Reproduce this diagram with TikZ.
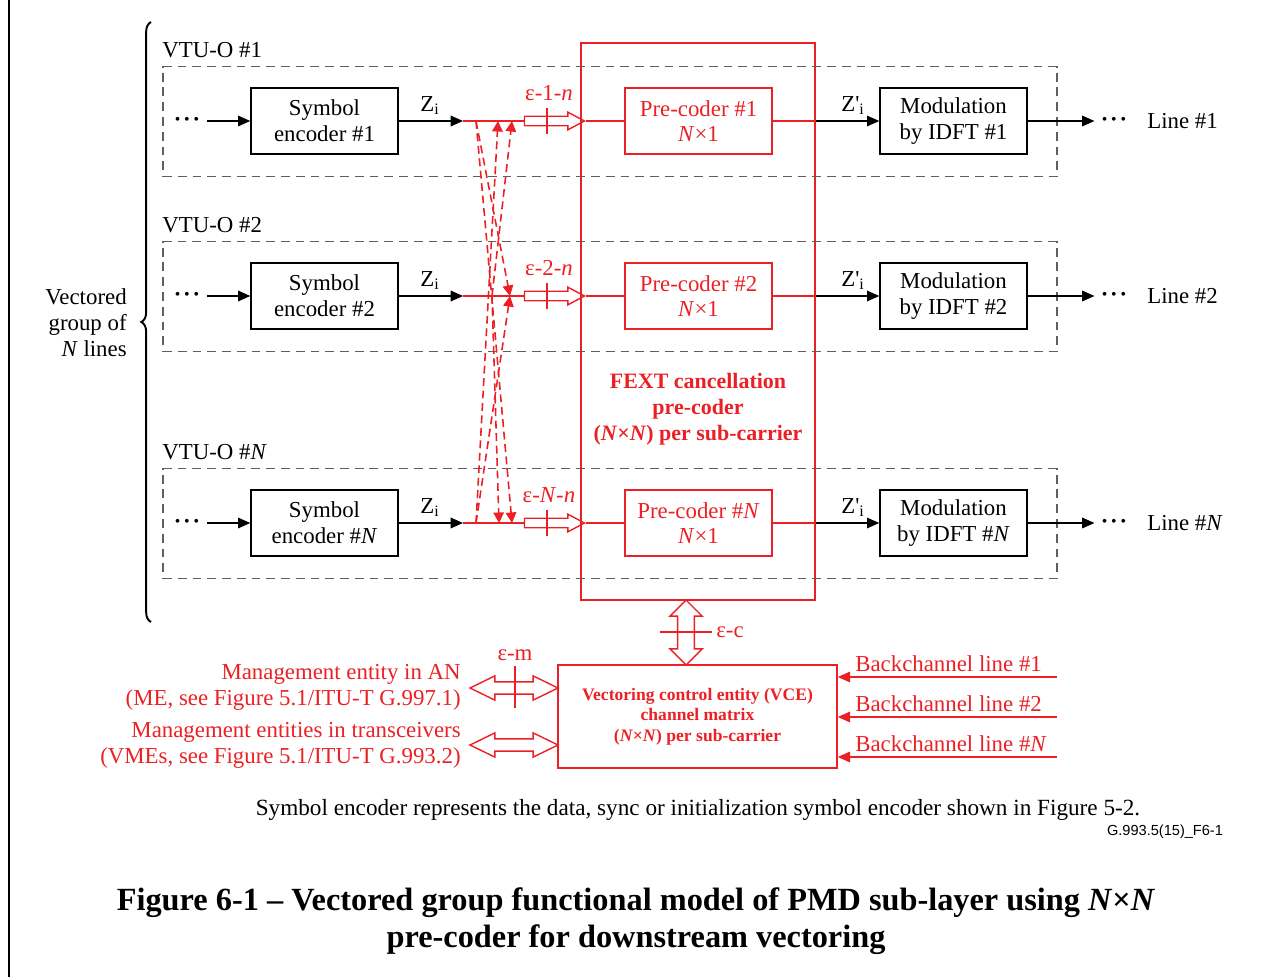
\documentclass[tikz,border=0pt]{standalone}
\usepackage{fontspec}
\setmainfont{Liberation Serif}
\newfontfamily\labelsans{Liberation Sans}
\usetikzlibrary{arrows.meta,shapes.arrows,decorations.pathreplacing,calc}
\definecolor{fextred}{RGB}{236,32,36}
\definecolor{grpgray}{RGB}{95,95,95}
\newcommand{\threedots}{\textbullet\hspace{2.2pt}\textbullet\hspace{2.2pt}\textbullet}

\begin{document}
\begin{tikzpicture}[x=0.02cm,y=-0.02cm,
  every node/.style={font=\fontsize{13}{14.7}\selectfont},
  blk/.style={draw=black, line width=0.8pt, minimum width=2.94cm, minimum height=1.32cm, align=center, inner sep=0pt},
  redblk/.style={blk, draw=fextred, text=fextred},
  grp/.style={draw=grpgray, line width=0.9pt, dash pattern=on 5pt off 3.4pt, minimum width=17.88cm, minimum height=2.2cm, inner sep=0pt},
  sig/.style={line width=0.9pt, -{Triangle[length=7pt,width=6pt]}},
  redsig/.style={line width=0.9pt, draw=fextred},
  fb/.style={draw=fextred, line width=0.9pt, dash pattern=on 4.5pt off 2.6pt, -{Triangle[length=6pt,width=6pt]}},
  tick/.style={draw=fextred, line width=0.8pt},
  narrow/.style={single arrow, draw=fextred, line width=0.8pt, inner xsep=0pt, inner ysep=2.3pt,
     single arrow head extend=2.3pt, single arrow tip angle=56, single arrow head indent=0pt, minimum height=1.2cm},
  dotsnode/.style={inner sep=0pt, font=\fontsize{9}{9}\selectfont},
  redtxt/.style={text=fextred, inner sep=0pt},
]
\useasboundingbox (0,0) rectangle (1285,977);

% page rule on the left
\draw[line width=1.6pt] (9,0) -- (9,977);

% FEXT cancellation pre-coder frame
\node[draw=fextred, line width=0.9pt, minimum width=4.68cm, minimum height=11.14cm, inner sep=0pt] (frame) at (698,321.5) {};

% one row per line of the vectored group
\foreach \r/\y/\n in {1/121/1, 2/296/2, N/523/\textit{N}}{
  \node[grp] (g\r) at (610,\y+0.5) {};
  \node[anchor=west, inner sep=0pt] (vtu\r) at (162,\y-71) {VTU-O \#\n};
  \node[dotsnode] (dl\r) at (187,\y) {\threedots};
  \node[blk] (se\r) at (324.5,\y) {Symbol\\encoder \#\n};
  \coordinate (z\r) at (463,\y);
  \node[anchor=base, inner sep=0pt] (zl\r) at (430,\y-10) {Z\textsubscript{i}};
  \node[narrow] (e\r) at (550,\y) {};
  \draw[tick] (547,\y-13) -- (547,\y+13);
  \node[redtxt, anchor=base] (el\r) at (549,\y-21) {ε-\n-\textit{n}};
  \node[redblk] (pc\r) at (698.5,\y) {Pre-coder \#\n\\\textit{N}×1};
  \node[blk] (md\r) at (953.5,\y) {Modulation\\by IDFT \#\n};
  \node[anchor=base, inner sep=0pt] (zp\r) at (853,\y-10) {Z\textquotesingle\textsubscript{i}};
  \node[dotsnode] (dr\r) at (1114,\y) {\threedots};
  \node[anchor=west, inner sep=0pt] (ln\r) at (1147,\y) {Line \#\n};
  \draw[sig, shorten <=4.5pt] (dl\r.east) -- (se\r.west);
  \draw[sig] (se\r.east) -- (z\r);
  \draw[redsig] (z\r) -- (e\r.west);
  \draw[redsig] (e\r.east) -- (pc\r.west);
  \draw[redsig] (pc\r.east) -- (pc\r.east -| frame.east);
  \draw[sig] (pc\r.east -| frame.east) -- (md\r.west);
  \draw[sig, shorten >=4pt] (md\r.east) -- (dr\r.west);
}

% cross feeds between the lines
\coordinate (tap1) at (476,121);
\coordinate (tap2) at (492,296);
\coordinate (tapN) at (476,523);
\coordinate (a1a) at (498,121);
\coordinate (a1b) at (512,121);
\coordinate (a2) at (510,296);
\coordinate (aNa) at (499,523);
\coordinate (aNb) at (512,523);
\draw[fb] (tapN) -- (a1a);
\draw[fb] (tap2) -- (a1b);
\draw[fb] (tap1) -- (a2);
\draw[fb] (tapN) -- (a2);
\draw[fb] (tap1) -- (aNb);
\draw[fb] (tap2) -- (aNa);

% group brace
\draw[line width=1.1pt, decorate, decoration={brace, amplitude=5.5pt}] (151,622) -- (151,22);
\node[anchor=east, align=right, inner sep=0pt] (grplbl) at (127,323) {Vectored\\group of\\\textit{N} lines};

% pre-coder caption
\node[text=fextred, align=center, inner sep=0pt, font=\fontsize{12.5}{14.7}\selectfont\bfseries] (fext) at (698,409)
  {FEXT cancellation\\pre-coder\\(\textit{N}×\textit{N}) per sub-carrier};

% vectoring control entity
\node[draw=fextred, line width=0.9pt, minimum width=5.58cm, minimum height=2.06cm, inner sep=0pt,
  text=fextred, align=center, font=\fontsize{10}{11.8}\selectfont\bfseries] (vce) at (697.5,716.5)
  {Vectoring control entity (VCE)\\channel matrix\\(\textit{N}×\textit{N}) per sub-carrier};

% ε-c interface
\node[double arrow, draw=fextred, line width=0.8pt, rotate=90, inner xsep=0pt, inner ysep=4.4pt,
  double arrow head extend=4.4pt, double arrow tip angle=90, double arrow head indent=0pt,
  minimum height=1.3cm] (ec) at (686,632.5) {};
\draw[tick] (660,632) -- (712,632);
\node[redtxt, anchor=west] (ecl) at (716,632) {ε-c};

% ε-m interfaces
\tikzset{marrow/.style={double arrow, draw=fextred, line width=0.8pt, inner xsep=0pt, inner ysep=3.1pt,
  double arrow head extend=3.4pt, double arrow tip angle=52, double arrow head indent=0pt, minimum height=1.76cm}}
\node[marrow] (em1) at (514,688) {};
\node[marrow] (em2) at (514,745) {};
\draw[tick] (515,666) -- (515,708);
\node[redtxt, anchor=base] (eml) at (515,660) {ε-m};

\node[redtxt, anchor=east, align=right] (me1) at (461,674) {Management entity in AN};
\node[redtxt, anchor=east, align=right] (me2) at (461,700) {(ME, see Figure 5.1/ITU-T G.997.1)};
\node[redtxt, anchor=east, align=right] (vm1) at (461,732) {Management entities in transceivers};
\node[redtxt, anchor=east, align=right] (vm2) at (461,758) {(VMEs, see Figure 5.1/ITU-T G.993.2)};

% backchannels into the VCE
\foreach \k/\y/\n in {1/677/1, 2/717/2, N/757/\textit{N}}{
  \coordinate (bc\k) at (1057,\y);
  \draw[draw=fextred, line width=0.9pt, -{Triangle[length=7pt,width=6pt]}] (bc\k) -- (bc\k -| vce.east);
  \node[redtxt, anchor=base west] (bcl\k) at (855,\y-6) {Backchannel line \#\n};
}

% notes and figure title
\node[inner sep=0pt, font=\fontsize{13.2}{15}\selectfont] (note) at (698,810)
  {Symbol encoder represents the data, sync or initialization symbol encoder shown in Figure 5-2.};
\node[inner sep=0pt, font=\labelsans\fontsize{8.3}{10}\selectfont] (fid) at (1165,832) {G.993.5(15)\_F6-1};
\node[inner sep=0pt, align=center, font=\fontsize{18.4}{21}\selectfont\bfseries] (title) at (636,921)
  {Figure 6-1 – Vectored group functional model of PMD sub-layer using \textit{N}×\textit{N}\\pre-coder for downstream vectoring};
\end{tikzpicture}
\end{document}
